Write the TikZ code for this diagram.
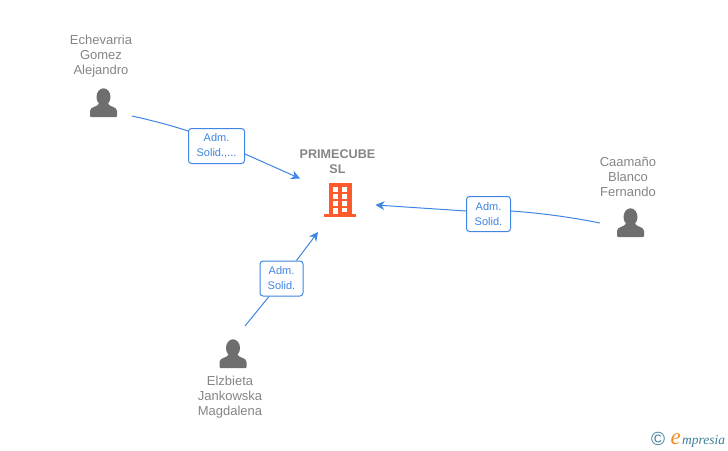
\documentclass[tikz,border=0pt]{standalone}
\usepackage{fontspec}
\setmainfont{Liberation Sans}
\newfontfamily\logofont{Liberation Serif}
\usetikzlibrary{arrows.meta}

\definecolor{linkblue}{HTML}{3F85E3}
\definecolor{namegray}{HTML}{858585}
\definecolor{icongray}{HTML}{6E6E6E}
\definecolor{brickred}{HTML}{FF5A2B}
\definecolor{logoteal}{HTML}{3B7E96}
\definecolor{logoorange}{HTML}{F28C1E}

\tikzset{
	person/.pic = {
		\fill[icongray] (0,-20) ellipse (7 and 8.7);
		\fill[icongray, rounded corners=1pt] (-13.5,0) -- (-13.5,-5) .. controls (-13.5,-10.5) and (-6,-10) .. (-4.5,-14) -- (4.5,-14) .. controls (6,-10) and (13.5,-10.5) .. (13.5,-5) -- (13.5,0) -- cycle;
	},
	namebox/.style = {
		text=namegray, align=center, inner sep=0pt,
		font=\fontsize{13}{15}\selectfont
	},
	rolebox/.style = {
		draw=linkblue, fill=white, rounded corners=3pt, line width=1pt,
		text=linkblue, align=center, inner sep=0pt,
		minimum height=35pt,
		font=\fontsize{11}{15}\selectfont
	},
	link/.style = {draw=linkblue, line width=1pt},
	tip/.style = {-{Stealth[length=9pt,width=9pt]}}
}

\begin{document}
\begin{tikzpicture}[x=1pt, y=-1pt]
	\useasboundingbox (0,0) rectangle (728,450);

	% names
	\node[namebox] (echevarria) at (101,56) {Echevarria\\Gomez\\Alejandro};
	\node[namebox] (caamano) at (628,176.5) {Caamaño\\Blanco\\Fernando};
	\node[namebox] (elzbieta) at (230,397.5) {Elzbieta\\Jankowska\\Magdalena};
	\node[namebox, font=\fontsize{12.6}{15}\selectfont\bfseries] (primecube) at (337.5,162) {PRIMECUBE\\SL};

	% icons
	\pic at (103.5,117) {person};
	\pic at (630.5,237) {person};
	\pic at (233,368) {person};

	% building
	\fill[brickred] (329,183) rectangle (352,214);
	\fill[brickred] (324,214) rectangle (356,217);
	\foreach \row in {187,194,201}
		\foreach \col in {333,342}
			\fill[white] (\col,\row) rectangle ++(4.5,4.5);
	\fill[white] (333,207.5) rectangle (337.5,214);
	\fill[white] (342,207.5) rectangle (346.5,211.5);

	% free ends of the connectors
	\coordinate (from1) at (132,116);
	\coordinate (to1) at (300,178.5);
	\coordinate (from2) at (600,223);
	\coordinate (to2) at (375.5,205);
	\coordinate (from3) at (245,326);
	\coordinate (to3) at (318,232);

	% role boxes
	\node[rolebox, minimum width=56pt] (role1) at (216.5,146) {Adm.\\Solid.,...};
	\node[rolebox, minimum width=44pt] (role2) at (488.5,214) {Adm.\\Solid.};
	\node[rolebox, minimum width=43pt] (role3) at (281.5,278.5) {Adm.\\Solid.};

	% connectors
	\draw[link] (from1) .. controls (150,120) and (170,125) .. (role1.west |- 0,131);
	\draw[link, tip] (role1.east |- 0,154) -- (to1);
	\draw[link] (from2) .. controls (570,217) and (540,213) .. (role2.east |- 0,211);
	\draw[link, tip] (role2.west |- 0,211) -- (to2);
	\draw[link] (from3) -- ([xshift=-12.5pt]role3.south);
	\draw[link, tip] ([xshift=15pt]role3.north) -- (to3);

	% logo
	\node[inner sep=0pt, text=logoteal, font=\fontsize{19}{19}\selectfont] (copyr) at (658,439) {©};
	\node[inner sep=0pt, anchor=base west, text=logoorange, font=\logofont\fontsize{23}{23}\selectfont\itshape] (logoe) at (670.5,444) {e};
	\node[inner sep=0pt, anchor=base west, text=logoteal, font=\logofont\fontsize{13.5}{13.5}\selectfont\itshape] (logotext) at (682,444) {mpresia};
\end{tikzpicture}
\end{document}
